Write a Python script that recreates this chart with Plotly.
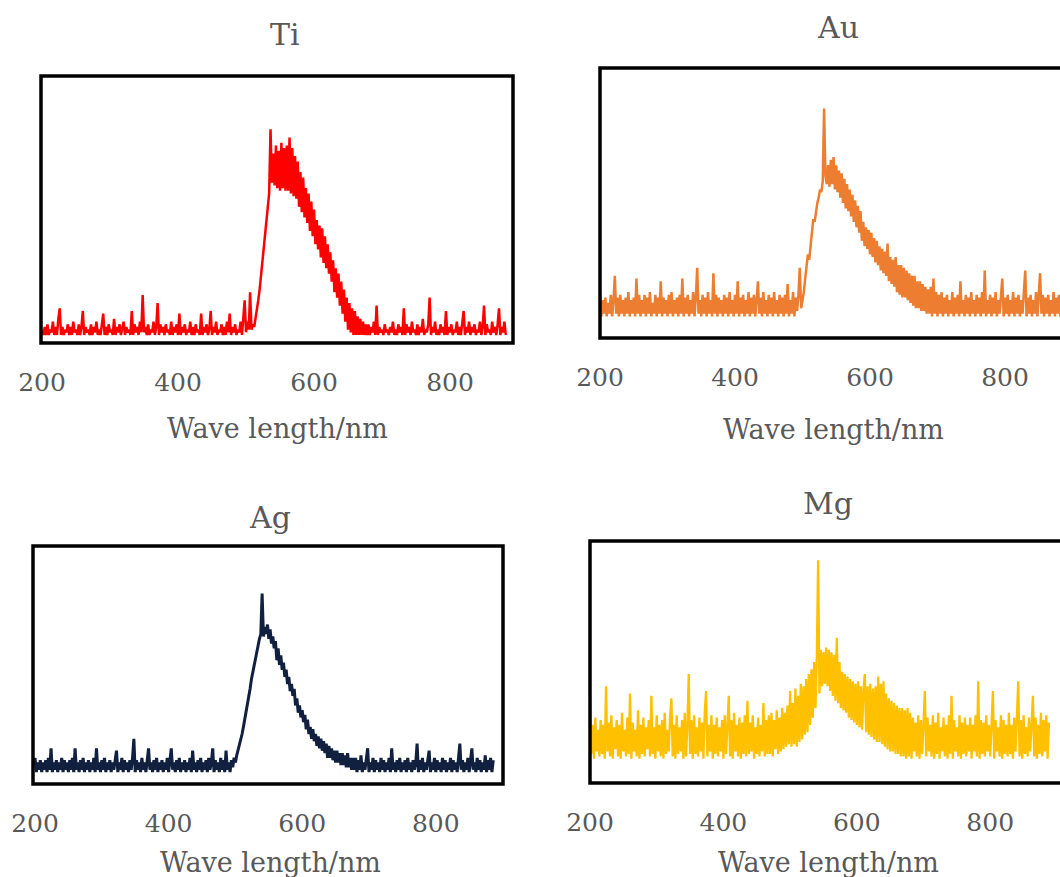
import plotly.graph_objects as go

# Sampled wavelengths (nm), 2 nm step
WAVELENGTH = list(range(200, 890, 2))

# Emission intensity, in percent of the panel's vertical extent (15 samples = 30 nm per row)
TI = [
    5, 3, 6, 3, 7, 3, 5, 4, 8, 3, 6, 3, 9, 13, 3,
    6, 3, 5, 4, 7, 3, 6, 3, 8, 4, 5, 3, 7, 3, 6,
    12, 3, 6, 4, 5, 3, 7, 3, 6, 4, 8, 3, 5, 3, 7,
    11, 3, 6, 3, 7, 4, 5, 3, 9, 3, 6, 4, 7, 3, 5,
    8, 3, 6, 4, 5, 3, 12, 3, 7, 4, 6, 3, 8, 4, 18,
    4, 6, 3, 7, 3, 5, 4, 8, 3, 6, 15, 3, 7, 4, 6,
    3, 7, 4, 5, 3, 8, 3, 6, 4, 7, 3, 11, 3, 6, 4,
    7, 3, 5, 4, 8, 3, 6, 3, 7, 4, 5, 3, 11, 3, 6,
    4, 7, 3, 5, 12, 3, 6, 4, 8, 3, 5, 4, 7, 3, 6,
    3, 8, 4, 11, 3, 6, 4, 7, 3, 5, 4, 8, 3, 9, 16,
    4, 8, 5, 19, 5, 7, 6, 9, 12, 16, 20, 25, 30, 36, 42,
    47, 52, 56, 80, 60, 71, 59, 74, 58, 72, 57, 75, 58, 73, 57,
    74, 57, 77, 56, 73, 55, 70, 54, 68, 51, 64, 49, 62, 47, 58,
    45, 56, 42, 53, 40, 50, 37, 46, 35, 44, 32, 43, 30, 40, 28,
    37, 26, 34, 23, 31, 19, 28, 17, 26, 14, 23, 11, 20, 8, 17,
    5, 15, 4, 13, 3, 12, 3, 10, 3, 9, 3, 8, 3, 7, 3,
    7, 3, 6, 4, 8, 3, 14, 3, 6, 4, 5, 3, 7, 4, 5,
    3, 6, 4, 8, 3, 5, 3, 7, 4, 6, 3, 13, 3, 7, 4,
    6, 3, 8, 4, 5, 3, 7, 3, 6, 4, 9, 3, 5, 4, 7,
    17, 3, 6, 4, 8, 3, 5, 3, 7, 4, 6, 3, 12, 3, 6,
    4, 7, 3, 5, 4, 8, 3, 6, 3, 7, 12, 3, 6, 4, 8,
    3, 6, 4, 7, 3, 5, 4, 8, 3, 6, 14, 3, 7, 4, 5,
    3, 8, 4, 6, 3, 7, 13, 3, 6, 4, 8, 3,
]

AU = [
    17, 8, 14, 9, 15, 8, 13, 9, 16, 8, 14, 23, 9, 15, 8,
    16, 9, 14, 8, 15, 9, 17, 8, 14, 9, 15, 8, 22, 9, 16,
    8, 14, 9, 16, 8, 15, 9, 17, 8, 13, 9, 16, 8, 15, 9,
    21, 8, 15, 9, 14, 8, 16, 9, 17, 8, 14, 9, 15, 8, 16,
    9, 22, 8, 15, 9, 16, 8, 14, 9, 17, 8, 15, 26, 9, 14,
    8, 16, 9, 15, 8, 17, 9, 14, 8, 24, 9, 16, 8, 15, 9,
    14, 8, 16, 9, 15, 8, 17, 9, 14, 8, 16, 9, 21, 8, 15,
    9, 16, 8, 14, 9, 17, 8, 15, 9, 16, 8, 14, 21, 9, 15,
    8, 17, 9, 14, 8, 16, 9, 15, 8, 17, 9, 14, 8, 16, 9,
    15, 8, 16, 9, 20, 8, 14, 9, 17, 8, 15, 10, 16, 26, 11,
    14, 17, 22, 27, 31, 29, 35, 40, 44, 43, 47, 50, 52, 55, 54,
    58, 85, 60, 57, 64, 56, 66, 57, 67, 55, 64, 54, 62, 52, 61,
    50, 59, 48, 57, 47, 55, 45, 53, 43, 51, 41, 49, 39, 47, 36,
    43, 34, 41, 33, 40, 31, 39, 30, 37, 28, 36, 27, 34, 25, 33,
    24, 32, 23, 35, 21, 30, 20, 29, 19, 30, 17, 27, 16, 27, 15,
    26, 15, 25, 14, 24, 13, 23, 12, 23, 11, 21, 11, 21, 10, 20,
    10, 19, 9, 18, 9, 19, 8, 22, 9, 17, 8, 16, 9, 17, 8,
    15, 9, 16, 8, 14, 9, 17, 8, 15, 9, 16, 8, 21, 9, 14,
    8, 16, 9, 15, 8, 17, 9, 14, 8, 16, 9, 15, 8, 17, 9,
    25, 8, 14, 9, 16, 8, 15, 9, 17, 8, 14, 9, 16, 22, 8,
    15, 9, 16, 8, 14, 9, 17, 8, 15, 9, 16, 8, 14, 9, 17,
    25, 8, 15, 9, 16, 8, 14, 9, 17, 8, 15, 24, 9, 16, 8,
    15, 9, 16, 8, 14, 9, 17, 8, 15, 9, 16, 8, 14, 9, 16,
]

AG = [
    11, 5, 9, 6, 10, 5, 9, 6, 10, 5, 11, 6, 15, 5, 9,
    6, 10, 5, 9, 6, 11, 5, 10, 6, 9, 5, 10, 6, 11, 5,
    15, 6, 9, 5, 10, 6, 11, 5, 9, 6, 10, 5, 9, 6, 11,
    5, 15, 6, 9, 5, 10, 6, 11, 5, 9, 6, 10, 5, 9, 6,
    10, 14, 5, 9, 6, 11, 5, 10, 6, 9, 5, 10, 6, 11, 19,
    5, 10, 6, 9, 5, 11, 6, 9, 5, 10, 15, 6, 9, 5, 10,
    6, 11, 5, 9, 6, 10, 5, 9, 6, 11, 5, 10, 15, 6, 9,
    5, 10, 6, 11, 5, 9, 6, 10, 5, 9, 6, 11, 5, 14, 6,
    9, 5, 10, 6, 11, 5, 9, 6, 10, 5, 11, 6, 9, 15, 5,
    10, 6, 9, 5, 11, 6, 10, 5, 14, 6, 9, 5, 10, 7, 11,
    9, 12, 14, 16, 18, 21, 24, 27, 30, 33, 37, 40, 44, 47, 50,
    53, 56, 59, 61, 63, 80, 62, 66, 63, 67, 61, 65, 59, 62, 57,
    60, 52, 57, 50, 54, 48, 51, 45, 48, 42, 45, 39, 42, 37, 40,
    33, 36, 30, 33, 28, 31, 26, 29, 23, 27, 21, 24, 19, 23, 18,
    21, 16, 20, 15, 19, 14, 18, 13, 17, 11, 16, 11, 15, 10, 14,
    9, 14, 9, 13, 8, 13, 8, 12, 7, 13, 7, 11, 6, 11, 6,
    11, 5, 10, 6, 12, 5, 9, 6, 10, 15, 5, 9, 6, 11, 5,
    10, 6, 9, 5, 11, 6, 10, 5, 9, 6, 11, 5, 15, 6, 9,
    5, 10, 6, 11, 5, 9, 6, 10, 5, 11, 6, 9, 5, 10, 6,
    9, 17, 5, 10, 6, 11, 5, 9, 6, 10, 14, 5, 9, 6, 11,
    5, 10, 6, 9, 5, 11, 6, 10, 5, 9, 6, 11, 5, 10, 6,
    9, 5, 11, 17, 6, 10, 5, 9, 6, 11, 5, 10, 15, 6, 9,
    5, 11, 6, 10, 5, 9, 6, 12, 5, 10, 6, 11, 5, 10,
]

MG = [
    35, 12, 24, 10, 27, 13, 22, 11, 26, 12, 24, 10, 40, 13, 25,
    11, 28, 10, 23, 14, 26, 11, 24, 10, 29, 13, 22, 11, 27, 12,
    37, 10, 25, 13, 22, 11, 30, 10, 24, 12, 27, 11, 23, 14, 26,
    11, 36, 12, 23, 10, 28, 13, 24, 11, 26, 10, 29, 12, 22, 13,
    27, 35, 11, 24, 10, 28, 12, 23, 13, 26, 10, 29, 11, 24, 45,
    12, 26, 10, 28, 12, 23, 11, 27, 13, 25, 10, 29, 38, 11, 24,
    13, 28, 10, 24, 12, 27, 11, 23, 13, 26, 10, 28, 12, 25, 36,
    11, 26, 10, 29, 13, 24, 11, 27, 10, 25, 12, 28, 11, 34, 12,
    25, 13, 28, 10, 23, 12, 27, 11, 24, 13, 33, 11, 26, 12, 28,
    12, 29, 11, 26, 14, 30, 12, 27, 13, 31, 14, 29, 15, 32, 16,
    38, 15, 33, 16, 39, 15, 36, 17, 41, 18, 40, 20, 43, 21, 45,
    24, 47, 27, 50, 31, 52, 92, 37, 55, 40, 54, 41, 56, 40, 55,
    38, 54, 36, 53, 34, 60, 33, 50, 31, 46, 30, 45, 29, 44, 27,
    43, 26, 42, 25, 41, 24, 42, 23, 40, 22, 39, 45, 21, 40, 20,
    41, 19, 39, 18, 40, 17, 44, 17, 41, 16, 42, 15, 37, 14, 35,
    13, 34, 13, 33, 12, 32, 12, 31, 11, 31, 11, 30, 10, 31, 11,
    29, 10, 27, 13, 25, 11, 28, 10, 26, 12, 24, 38, 11, 27, 13,
    24, 11, 28, 10, 25, 12, 29, 10, 23, 13, 27, 11, 24, 10, 28,
    12, 36, 10, 26, 13, 23, 11, 28, 10, 25, 12, 27, 11, 24, 13,
    27, 10, 24, 13, 28, 11, 42, 10, 26, 12, 25, 11, 28, 13, 24,
    11, 27, 38, 10, 26, 13, 23, 11, 28, 10, 26, 12, 24, 11, 29,
    12, 24, 10, 27, 13, 25, 42, 11, 26, 10, 28, 12, 23, 11, 27,
    13, 25, 36, 11, 27, 10, 24, 12, 29, 11, 26, 13, 28, 10, 25,
]

TICKS = [200, 400, 600, 800]
AXIS_TITLE = "Wave length/nm"

W, H = 1060, 877
FONT = "DejaVu Serif"
TEXT = "#595959"


def fx(p):
    return p / W


def fy(p):
    return 1 - p / H


# name, values, colour, line width, frame box (px), x range, title pos, axis-title pos, frame right (domain units)
PANELS = [
    ("Ti", TI, "#ff0000", 2.5, (41, 513, 76, 343), (198.5, 892.6), (285, 35), (277, 428), 1.0),
    ("Au", AU, "#ed7d31", 2.5, (600, 1060, 68, 338), (200, 881.5), (838, 28), (833, 430), 1.03),
    ("Ag", AG, "#12203f", 3.0, (33, 503, 546, 784), (197.0, 900.6), (270, 517), (270, 862), 1.0),
    ("Mg", MG, "#ffc000", 2.3, (590, 1060, 541, 783), (200, 904.6), (828, 503), (828, 862), 1.03),
]

fig = go.Figure()
annotations = []
shapes = []

for i, (name, vals, colour, lw, box, xr, tpos, apos, fright) in enumerate(PANELS, start=1):
    sfx = "" if i == 1 else str(i)
    fig.add_trace(go.Scatter(
        x=WAVELENGTH[:len(vals)], y=vals, mode="lines",
        line=dict(color=colour, width=lw),
        xaxis="x" + sfx, yaxis="y" + sfx, showlegend=False, name=name,
    ))
    x0, x1, ytop, ybot = box
    fig.layout["xaxis" + sfx] = dict(
        domain=[fx(x0), fx(x1)], range=list(xr), anchor="y" + sfx,
        tickvals=TICKS, ticks="", showgrid=False, zeroline=False, showline=False,
        automargin=False,
        tickfont=dict(family=FONT, size=25, color=TEXT), ticklabelstandoff=22,
    )
    fig.layout["yaxis" + sfx] = dict(
        domain=[fy(ybot), fy(ytop)], range=[0, 100], anchor="x" + sfx,
        showticklabels=False, ticks="", showgrid=False, zeroline=False, showline=False,
        automargin=False,
    )
    shapes.append(dict(
        type="rect", xref="x%s domain" % sfx, yref="y%s domain" % sfx,
        x0=0, x1=fright, y0=0, y1=1, line=dict(color="black", width=3.5),
    ))
    annotations.append(dict(
        text=name, x=fx(tpos[0]), y=fy(tpos[1]), xref="paper", yref="paper",
        xanchor="center", yanchor="middle", showarrow=False,
        font=dict(family=FONT, size=30, color=TEXT),
    ))
    annotations.append(dict(
        text=AXIS_TITLE, x=fx(apos[0]), y=fy(apos[1]), xref="paper", yref="paper",
        xanchor="center", yanchor="middle", showarrow=False,
        font=dict(family=FONT, size=27, color=TEXT),
    ))

fig.update_layout(
    width=W, height=H, margin=dict(l=0, r=0, t=0, b=0),
    paper_bgcolor="white", plot_bgcolor="white",
    shapes=shapes, annotations=annotations,
)

fig.write_html("out.html")
